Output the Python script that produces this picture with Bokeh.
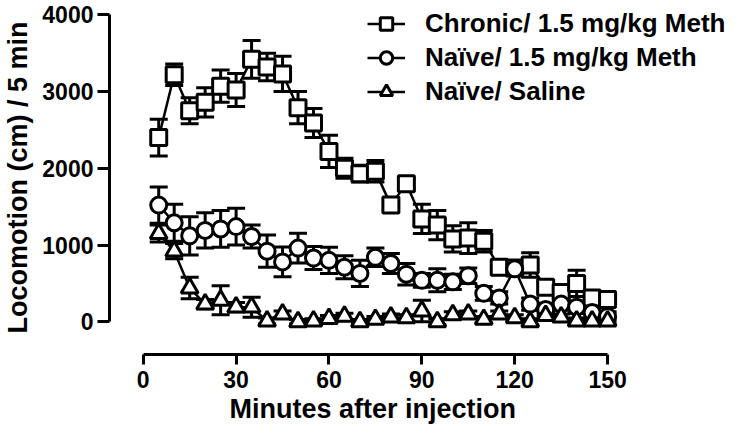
from bokeh.plotting import figure
from bokeh.models import (ColumnDataSource, Whisker, TeeHead, FixedTicker, Legend,
                          LegendItem, Range1d, Title)
from bokeh.embed import file_html
from bokeh.resources import INLINE

# ---- data ----
minutes = [5, 10, 15, 20, 25, 30, 35, 40, 45, 50, 55, 60, 65, 70, 75,
           80, 85, 90, 95, 100, 105, 110, 115, 120, 125, 130, 135, 140, 145, 150]

chronic_mean = [2400, 3220, 2750, 2860, 3070, 3020, 3420, 3320, 3230, 2790, 2590, 2220, 2000, 1930, 1960,
                1520, 1800, 1340, 1260, 1080, 1090, 1050, 710, 700, 740, 450, 380, 500, 310, 290]
chronic_sem = [240, 140, 170, 190, 210, 215, 245, 180, 230, 210, 190, 210, 130, 110, 140,
               60, 60, 190, 190, 170, 200, 140, 60, 80, 160, 60, 60, 170, 60, 50]

naive_mean = [1520, 1290, 1120, 1190, 1210, 1240, 1110, 920, 780, 960, 830, 800, 710, 630, 840,
              760, 620, 540, 540, 520, 600, 370, 310, 690, 230, 160, 230, 190, 120, 70]
naive_sem = [235, 240, 250, 230, 240, 240, 150, 210, 195, 195, 150, 170, 150, 170, 120,
             130, 140, 90, 150, 100, 100, 90, 80, 90, 80, 80, 80, 80, 80, 60]

saline_mean = [1150, 920, 440, 230, 280, 190, 190, 10, 100, 0, 10, 40, 70, 0, 30,
               60, 50, 140, 0, 90, 100, 30, 100, 50, 0, 80, 60, 10, 10, 10]
saline_sem = [110, 100, 140, 60, 190, 60, 130, 40, 40, 30, 30, 40, 40, 30, 40,
              40, 40, 140, 40, 40, 40, 40, 40, 40, 40, 40, 40, 40, 40, 40]

series_labels = ["Chronic/ 1.5 mg/kg Meth", "Naïve/ 1.5 mg/kg Meth", "Naïve/ Saline"]
x_title = "Minutes after injection"
y_title = "Locomotion (cm) / 5 min"
x_ticks = [0, 30, 60, 90, 120, 150]
y_ticks = [0, 1000, 2000, 3000, 4000]

FONT = "Liberation Sans"

p = figure(width=734, height=424, output_backend="svg", toolbar_location=None,
           x_range=Range1d(-10.9, 191.0), y_range=Range1d(-426.7, 4186.7),
           min_border_left=104, min_border_right=0, min_border_top=0, min_border_bottom=70)
p.outline_line_color = None
p.xgrid.visible = False
p.ygrid.visible = False
p.background_fill_color = "white"

for ax in (p.xaxis[0], p.yaxis[0]):
    ax.axis_line_width = 3
    ax.major_tick_line_width = 3
    ax.major_tick_in = 0
    ax.minor_tick_line_color = None
    ax.major_label_text_font = FONT
    ax.major_label_text_font_style = "bold"
    ax.major_label_text_font_size = "23px"
    ax.major_label_text_color = "black"
    ax.axis_label_text_font = FONT
    ax.axis_label_text_font_style = "bold"
    ax.axis_label_text_font_size = "27px"
    ax.axis_label_text_color = "black"

p.xaxis.ticker = FixedTicker(ticks=x_ticks)
p.xaxis.bounds = (0, 150)
p.xaxis.major_tick_out = 10
p.xaxis.major_label_standoff = 6

p.yaxis.ticker = FixedTicker(ticks=y_ticks)
p.yaxis.bounds = (0, 4000)
p.yaxis.major_tick_out = 12
p.yaxis.major_label_standoff = 4
p.yaxis.axis_label = y_title
p.yaxis.axis_label_standoff = 6

# x-axis title centred under the 0-150 axis line (not under the whole frame)
p.add_layout(Title(text=x_title, align="left", offset=120, standoff=2,
                   text_font=FONT, text_font_style="bold", text_font_size="27px",
                   text_color="black"), "below")

markers = ["square", "circle", "triangle"]
sizes = [16, 16, 17]
means = [chronic_mean, naive_mean, saline_mean]
sems = [chronic_sem, naive_sem, saline_sem]

items = []
for lab, mk, sz, m, s in zip(series_labels, markers, sizes, means, sems):
    src = ColumnDataSource(dict(x=minutes, y=m,
                                upper=[a + b for a, b in zip(m, s)],
                                lower=[a - b for a, b in zip(m, s)]))
    w = Whisker(base="x", upper="upper", lower="lower", source=src, dimension="height",
                line_width=3, line_color="black",
                upper_head=TeeHead(size=18, line_width=3, line_color="black"),
                lower_head=TeeHead(size=18, line_width=3, line_color="black"))
    p.add_layout(w)
    ln = p.line("x", "y", source=src, line_width=2.5, line_color="black")
    sc = p.scatter("x", "y", source=src, marker=mk, size=sz, fill_color="white",
                   line_color="black", line_width=3)
    items.append(LegendItem(label=lab, renderers=[ln, sc]))

legend = Legend(items=items, location=(258, 247), glyph_width=38, glyph_height=31,
                label_height=31, label_standoff=20, spacing=3, padding=0, margin=0,
                border_line_color=None, background_fill_alpha=0,
                label_text_font=FONT, label_text_font_style="bold",
                label_text_font_size="26px", label_text_color="black")
p.add_layout(legend)

open("out.html", "w").write(file_html(p, INLINE))
